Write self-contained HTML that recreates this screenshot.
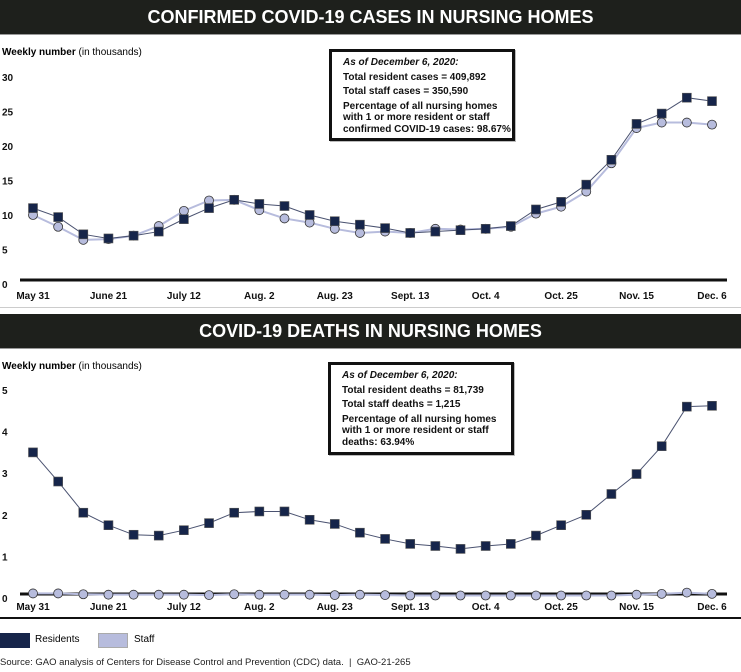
<!DOCTYPE html>
<html><head><meta charset="utf-8">
<style>
body{margin:0;width:741px;height:672px;background:#fff;font-family:"Liberation Sans",Arial,sans-serif;overflow:hidden;position:relative}
.bar{position:absolute;left:0;width:741px;background:#1e201c;color:#fff;font-weight:bold;font-size:18px;text-align:center;border-bottom:1px solid #999}
.box{position:absolute;border:3px solid #111;background:#fff;font-size:10px;font-weight:bold;color:#111;padding:5px 0 0 11px;box-sizing:border-box;line-height:11.5px;box-shadow:1px 1px 0 #bbb}
.box div{margin-bottom:3px}
.ylab{position:absolute;font-size:10px;font-weight:bold;left:2px}
.ylab span{font-weight:normal}
svg{position:absolute;left:0}
svg text{font-family:"Liberation Sans",Arial,sans-serif;font-size:10px;font-weight:bold;fill:#111}
</style></head><body>
<div class="bar" style="top:0;height:34px;line-height:34px">CONFIRMED COVID-19 CASES IN NURSING HOMES</div>
<div class="ylab" style="top:47px">Weekly number <span>(in thousands)</span></div>
<svg id="c1" width="741" height="310" style="top:0"></svg>
<div class="box" style="left:329px;top:49px;width:186px;height:92px">
<div style="font-style:italic">As of December 6, 2020:</div>
<div>Total resident cases = 409,892</div>
<div>Total staff cases = 350,590</div>
<div>Percentage of all nursing homes<br>with 1 or more resident or staff<br>confirmed COVID-19 cases: 98.67%</div>
</div>
<div style="position:absolute;left:0;top:307px;width:741px;height:1px;background:#ccc"></div>
<div class="bar" style="top:314px;height:34px;line-height:34px">COVID-19 DEATHS IN NURSING HOMES</div>
<div class="ylab" style="top:361px">Weekly number <span>(in thousands)</span></div>
<svg id="c2" width="741" height="672" style="top:0"></svg>
<div class="box" style="left:328px;top:362px;width:186px;height:93px">
<div style="font-style:italic">As of December 6, 2020:</div>
<div>Total resident deaths = 81,739</div>
<div>Total staff deaths = 1,215</div>
<div>Percentage of all nursing homes<br>with 1 or more resident or staff<br>deaths: 63.94%</div>
</div>
<div style="position:absolute;left:0;top:617px;width:741px;height:2px;background:#111"></div>
<div style="position:absolute;left:0;top:633px;width:30px;height:15px;background:#16254a"></div>
<div style="position:absolute;left:35px;top:634px;font-size:10px">Residents</div>
<div style="position:absolute;left:98px;top:633px;width:30px;height:15px;background:#b7bcdd;border:1px solid #aaa;box-sizing:border-box"></div>
<div style="position:absolute;left:134px;top:634px;font-size:10px">Staff</div>
<div style="position:absolute;left:0;top:657px;font-size:9.5px;color:#222">Source: GAO analysis of Centers for Disease Control and Prevention (CDC) data. &nbsp;|&nbsp; GAO-21-265</div>
<script>
const xLabels=["May 31","June 21","July 12","Aug. 2","Aug. 23","Sept. 13","Oct. 4","Oct. 25","Nov. 15","Dec. 6"];
const caseTicks=[0,5,10,15,20,25,30];
const caseResidents=[11.0,9.7,7.2,6.6,7.0,7.6,9.4,11.0,12.2,11.6,11.3,10.0,9.1,8.6,8.1,7.4,7.6,7.8,8.0,8.4,10.8,11.9,14.4,18.0,23.2,24.7,27.0,26.5];
const caseStaff=[10.0,8.3,6.4,6.5,7.0,8.4,10.6,12.1,12.2,10.7,9.5,8.9,8.0,7.4,7.6,7.4,8.0,7.9,8.0,8.3,10.2,11.2,13.4,17.5,22.6,23.4,23.4,23.1];
const deathTicks=[0,1,2,3,4,5];
const deathResidents=[3.5,2.8,2.05,1.75,1.52,1.5,1.63,1.8,2.05,2.08,2.08,1.88,1.78,1.57,1.42,1.3,1.25,1.18,1.25,1.3,1.5,1.75,2.0,2.5,2.98,3.65,4.6,4.62];
const deathStaff=[0.11,0.11,0.09,0.08,0.08,0.08,0.08,0.07,0.09,0.08,0.08,0.08,0.07,0.08,0.07,0.06,0.06,0.06,0.06,0.06,0.06,0.06,0.06,0.06,0.08,0.1,0.13,0.1];
const NS='http://www.w3.org/2000/svg';
function mk(svg,tag,attrs){const e=document.createElementNS(NS,tag);for(const k in attrs)e.setAttribute(k,attrs[k]);svg.appendChild(e);return e;}
function xPos(i){return 33+i*(679/27);}
function draw(svg,ticks,y,axisY,labelY,res,staff,prefix){
  ticks.forEach(t=>{const e=mk(svg,'text',{x:2,y:y(t)+4});e.textContent=t;
    
    });
  const ax=mk(svg,'line',{x1:20,x2:727,y1:axisY,y2:axisY,stroke:'#111','stroke-width':3});
  
  
  xLabels.forEach((l,k)=>{const e=mk(svg,'text',{x:xPos(k*3),y:labelY,'text-anchor':'middle'});e.textContent=l;
    
    });
  const sp=mk(svg,'polyline',{points:staff.map((v,i)=>xPos(i)+','+y(v)).join(' '),fill:'none',stroke:'#b7bcdd','stroke-width':2});
  
  
  const rp=mk(svg,'polyline',{points:res.map((v,i)=>xPos(i)+','+y(v)).join(' '),fill:'none',stroke:'#4a5270','stroke-width':1});
  
  
  staff.forEach((v,i)=>{const c=mk(svg,'circle',{cx:xPos(i),cy:y(v),r:4.5,fill:'#b7bcdd',stroke:'#333','stroke-width':0.8});
    
    });
  res.forEach((v,i)=>{const r=mk(svg,'rect',{x:xPos(i)-4.5,y:y(v)-4.5,width:9,height:9,fill:'#16254a',stroke:'#555','stroke-width':0.6});
    
    });
}
draw(document.getElementById('c1'),caseTicks,v=>284-6.9*v,280,299,caseResidents,caseStaff,'cases');
draw(document.getElementById('c2'),deathTicks,v=>598-41.6*v,594,610,deathResidents,deathStaff,'deaths');
</script>
</body></html>
